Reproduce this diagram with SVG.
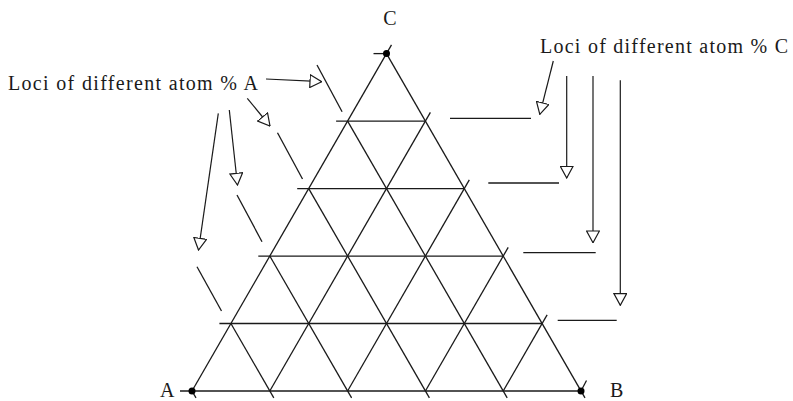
<svg xmlns="http://www.w3.org/2000/svg" width="793" height="401" viewBox="0 0 793 401">
<defs>
<style>
.ln{stroke:#1a1a1a;stroke-width:1.3;fill:none;stroke-linecap:butt}
.ar{stroke:#1a1a1a;stroke-width:1.2;fill:none;marker-end:url(#hollow)}
.lbl{font-family:"Liberation Serif","Times New Roman",serif;font-size:20px;fill:#1a1a1a}
.dot{fill:#000}
</style>
<marker id="hollow" markerUnits="userSpaceOnUse" viewBox="0 0 13 14" refX="12.3" refY="7" markerWidth="13" markerHeight="14" orient="auto">
<path d="M0.6,0.6 L12.3,7 L0.6,13.4 Z" fill="#fff" stroke="#1a1a1a" stroke-width="1.2"/>
</marker>
</defs>
<rect width="793" height="401" fill="#fff"/>

<g id="triangle-grid" class="ln">
<line x1="180" y1="391" x2="581" y2="391"/>
<line x1="219.4" y1="323.52" x2="542.1" y2="323.52"/>
<line x1="258.3" y1="256.04" x2="503.2" y2="256.04"/>
<line x1="297.2" y1="188.56" x2="464.3" y2="188.56"/>
<line x1="336.1" y1="121.08" x2="425.4" y2="121.08"/>
<line x1="373.5" y1="53.6" x2="386.5" y2="53.6"/>
<line x1="192" y1="391" x2="196" y2="397.9"/>
<line x1="230.9" y1="323.52" x2="273.8" y2="397.9"/>
<line x1="269.8" y1="256.04" x2="351.6" y2="397.9"/>
<line x1="308.7" y1="188.56" x2="429.4" y2="397.9"/>
<line x1="347.6" y1="121.08" x2="507.2" y2="397.9"/>
<line x1="386.5" y1="53.6" x2="585" y2="397.9"/>
<line x1="192" y1="391" x2="391.5" y2="44.9"/>
<line x1="269.8" y1="391" x2="430.4" y2="112.4"/>
<line x1="347.6" y1="391" x2="469.3" y2="179.9"/>
<line x1="425.4" y1="391" x2="508.2" y2="247.4"/>
<line x1="503.2" y1="391" x2="547.1" y2="314.9"/>
<line x1="581" y1="391" x2="586.5" y2="380.5"/>
</g>

<g id="vertices">
<circle class="dot" cx="192" cy="391" r="3.5"/>
<circle class="dot" cx="581" cy="391" r="3.5"/>
<circle class="dot" cx="386.5" cy="53.6" r="3.5"/>
</g>

<g id="labels">
<text class="lbl" x="390" y="25" text-anchor="middle">C</text>
<text class="lbl" x="160" y="397">A</text>
<text class="lbl" x="610" y="397">B</text>
</g>

<g id="loci-A">
<line class="ln" x1="317" y1="65" x2="342.1" y2="111.7"/>
<line class="ln" x1="277.5" y1="132.7" x2="302.5" y2="179"/>
<line class="ln" x1="237" y1="195" x2="262" y2="241.7"/>
<line class="ln" x1="197" y1="266.7" x2="221.5" y2="311"/>
<text class="lbl" x="8" y="90" font-size="21" textLength="250" lengthAdjust="spacing">Loci of different atom % A</text>
</g>

<g id="loci-C">
<line class="ln" x1="450" y1="118.3" x2="531" y2="118.3"/>
<line class="ln" x1="488.3" y1="183" x2="559" y2="183"/>
<line class="ln" x1="523.3" y1="252.7" x2="595.7" y2="252.7"/>
<line class="ln" x1="557.7" y1="320.3" x2="616.7" y2="320.3"/>
<text class="lbl" x="540" y="53" font-size="21" textLength="248" lengthAdjust="spacing">Loci of different atom % C</text>
</g>

<g id="connectors">
<line class="ar" x1="266" y1="79" x2="321.7" y2="81.7"/>
<line class="ar" x1="247.3" y1="98.3" x2="270" y2="126"/>
<line class="ar" x1="229.3" y1="110" x2="237.5" y2="185"/>
<line class="ar" x1="218.3" y1="113.3" x2="198.5" y2="250"/>
<line class="ar" x1="553.3" y1="61" x2="539.8" y2="114.3"/>
<line class="ar" x1="566.7" y1="76" x2="566.7" y2="178"/>
<line class="ar" x1="593" y1="76" x2="593" y2="242.7"/>
<line class="ar" x1="620.3" y1="80.3" x2="620.3" y2="305.3"/>
</g>
</svg>
